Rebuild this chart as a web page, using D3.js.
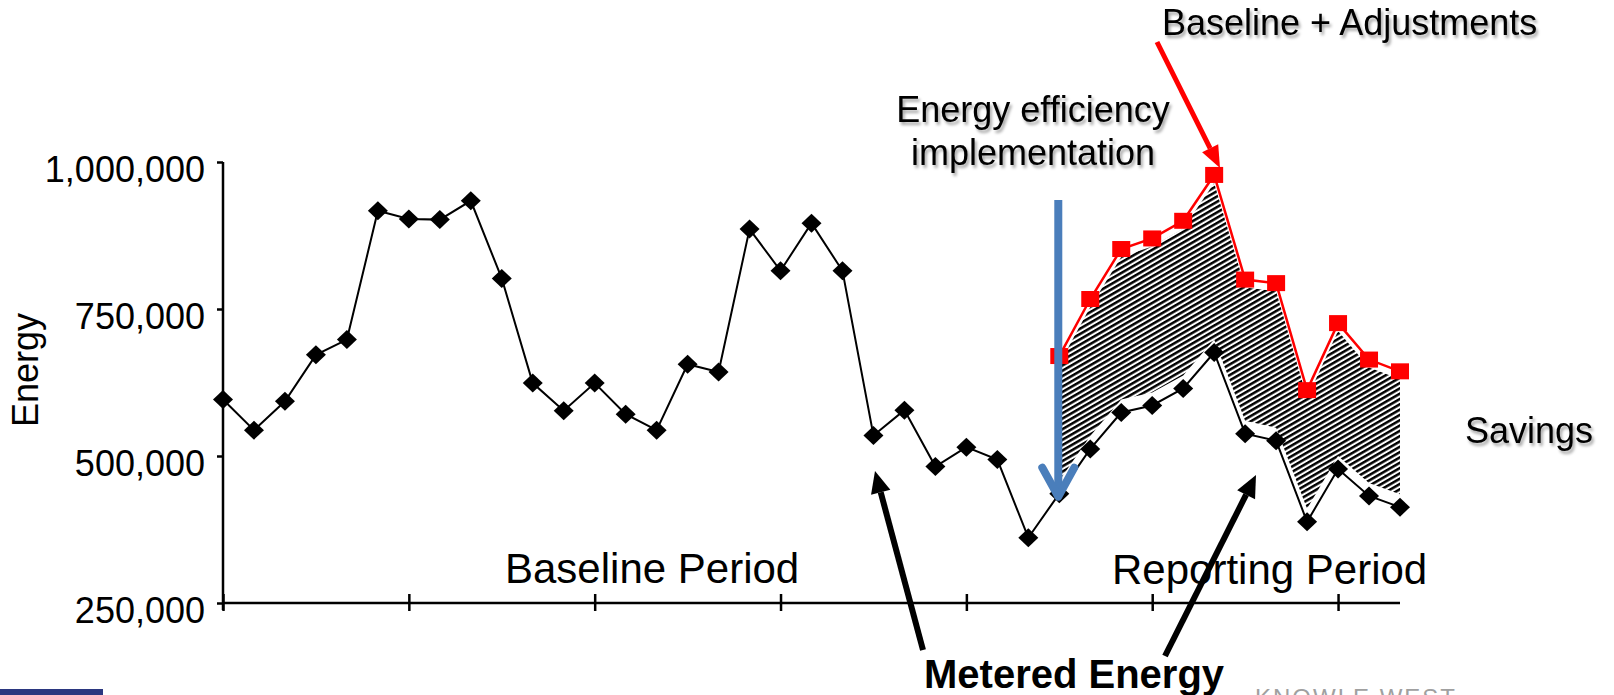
<!DOCTYPE html>
<html>
<head>
<meta charset="utf-8">
<script src="https://cdn.jsdelivr.net/npm/d3@7"></script>
<style>
  html, body { margin: 0; padding: 0; background: #fff; }
  svg { display: block; font-family: "Liberation Sans", Arial, sans-serif; }
</style>
</head>
<body>
<div id="chart"></div>
<script>
const width = 1614;
const height = 695;

// data (energy per period)
const periodTicks = [0, 6, 12, 18, 24, 30, 36];
const energyTicks = [250000, 500000, 750000, 1000000];
const metered = [
  596000, 544000, 593000, 672000, 698000, 917000, 903000, 902000, 934000, 802000,
  624000, 577000, 624000, 571000, 544000, 656000, 643000, 886000, 815000, 896000,
  815000, 535000, 578000, 482000, 515000, 494000, 361000, 436000, 512000, 574000,
  586000, 615000, 676000, 538000, 526000, 388000, 478000, 432000, 413000
];
const reportStart = 27;
const adjusted = [670000, 767000, 852000, 870000, 900000, 978000, 800000, 794000, 612000, 726000, 664000, 644000];

const svg = d3.select("#chart")
  .append("svg")
  .attr("width", width)
  .attr("height", height);

const defs = svg.append("defs");

const shadow = defs.append("filter")
  .attr("id", "shadow")
  .attr("x", "-10%").attr("y", "-30%")
  .attr("width", "130%").attr("height", "180%");
shadow.append("feDropShadow")
  .attr("dx", 2).attr("dy", 3)
  .attr("stdDeviation", 1.6)
  .attr("flood-color", "#000")
  .attr("flood-opacity", 0.35);

const hatch = defs.append("pattern")
  .attr("id", "hatch")
  .attr("patternUnits", "userSpaceOnUse")
  .attr("width", 8).attr("height", 4.6)
  .attr("patternTransform", "rotate(-30)");
hatch.append("rect").attr("width", 8).attr("height", 4.6).attr("fill", "#fff");
hatch.append("rect").attr("width", 8).attr("height", 2.5).attr("fill", "#000");

const x = d3.scaleLinear()
  .domain([0, metered.length - 1])
  .range([223, 1400]);

const y = d3.scaleLinear()
  .domain([250000, 1000000])
  .range([603, 162]);

// savings band between baseline+adjustments and metered energy
const savings = adjusted.map((v, i) => ({ i: reportStart + i, top: v, bottom: metered[reportStart + i] }));

svg.append("path")
  .datum(savings)
  .attr("fill", "url(#hatch)")
  .attr("d", d3.area()
    .x(d => x(d.i))
    .y0(d => y(d.bottom) - 13)
    .y1(d => y(d.top) + 8));

// axes
const yAxis = svg.append("g")
  .attr("transform", `translate(${x(0)},0)`)
  .call(d3.axisLeft(y)
    .tickValues(energyTicks)
    .tickSize(6)
    .tickPadding(12)
    .tickFormat(d3.format(",")));

yAxis.select(".domain").remove();
yAxis.append("line")
  .attr("y1", y(1000000)).attr("y2", y(250000) + 7)
  .attr("stroke", "#000").attr("stroke-width", 2.5);
yAxis.selectAll(".tick line").attr("stroke", "#000").attr("stroke-width", 2.5);
yAxis.selectAll(".tick text")
  .attr("dy", "19px")
  .attr("fill", "#000")
  .style("font-size", "36px")
  .style("font-family", "'Liberation Sans', Arial, sans-serif");

const xAxis = svg.append("g")
  .attr("transform", `translate(0,${y(250000)})`)
  .call(d3.axisBottom(x)
    .tickValues(periodTicks)
    .tickSize(8)
    .tickFormat(""));

xAxis.select(".domain")
  .attr("d", `M${x(0)},0H${x(metered.length - 1)}`)
  .attr("stroke", "#000").attr("stroke-width", 2.5);
xAxis.selectAll(".tick line")
  .attr("y1", -9).attr("y2", 8)
  .attr("stroke", "#000").attr("stroke-width", 2.5);

// metered energy line
svg.append("path")
  .datum(metered)
  .attr("fill", "none")
  .attr("stroke", "#000")
  .attr("stroke-width", 2)
  .attr("d", d3.line().x((d, i) => x(i)).y(d => y(d)));

// baseline + adjustments line
svg.append("path")
  .datum(adjusted)
  .attr("fill", "none")
  .attr("stroke", "#ff0000")
  .attr("stroke-width", 2.5)
  .attr("d", d3.line().x((d, i) => x(reportStart + i)).y(d => y(d)));

svg.append("g")
  .selectAll("path")
  .data(metered)
  .enter().append("path")
  .attr("transform", (d, i) => `translate(${x(i)},${y(d)})`)
  .attr("d", "M0,-9.5L10,0L0,9.5L-10,0Z")
  .attr("fill", "#000");

svg.append("g")
  .selectAll("rect")
  .data(adjusted)
  .enter().append("rect")
  .attr("x", (d, i) => x(reportStart + i) - 9)
  .attr("y", d => y(d) - 8)
  .attr("width", 18)
  .attr("height", 16)
  .attr("fill", "#ff0000");

// annotation arrows
function arrow(x1, y1, x2, y2, color, w, headLen, headW) {
  const a = Math.atan2(y2 - y1, x2 - x1);
  const bx = x2 - headLen * Math.cos(a);
  const by = y2 - headLen * Math.sin(a);
  const g = svg.append("g");
  g.append("line")
    .attr("x1", x1).attr("y1", y1)
    .attr("x2", bx).attr("y2", by)
    .attr("stroke", color).attr("stroke-width", w);
  g.append("path")
    .attr("d", `M${x2},${y2}L${bx + headW / 2 * Math.sin(a)},${by - headW / 2 * Math.cos(a)}L${bx - headW / 2 * Math.sin(a)},${by + headW / 2 * Math.cos(a)}Z`)
    .attr("fill", color);
}

arrow(1157, 42, 1220, 168, "#ff0000", 5, 22, 18);
arrow(923, 650, 875, 471, "#000", 6, 22, 20);
arrow(1165, 656, 1256, 475, "#000", 6, 22, 20);

// energy efficiency implementation arrow
const ix = x(reportStart) - 1;
const tipY = y(metered[reportStart]) + 6;
svg.append("line")
  .attr("x1", ix).attr("y1", 200)
  .attr("x2", ix).attr("y2", tipY - 4)
  .attr("stroke", "#4a7ebb").attr("stroke-width", 8);
svg.append("path")
  .attr("d", `M${ix - 16},${tipY - 32}L${ix},${tipY - 3}L${ix + 16},${tipY - 32}`)
  .attr("fill", "none")
  .attr("stroke", "#4a7ebb")
  .attr("stroke-width", 8)
  .attr("stroke-linecap", "round")
  .attr("stroke-linejoin", "round");

// labels
const labels = [
  { text: "Baseline + Adjustments", x: 1162, y: 35, size: 36, anchor: "start", shadow: true },
  { text: "Energy efficiency", x: 1033, y: 122, size: 36, anchor: "middle", shadow: true },
  { text: "implementation", x: 1033, y: 165, size: 36, anchor: "middle", shadow: true },
  { text: "Savings", x: 1465, y: 443, size: 36, anchor: "start", shadow: true },
  { text: "Baseline Period", x: 505, y: 583, size: 42, anchor: "start", shadow: false },
  { text: "Reporting Period", x: 1112, y: 584, size: 42, anchor: "start", shadow: false }
];

svg.append("g")
  .selectAll("text")
  .data(labels)
  .enter().append("text")
  .attr("x", d => d.x)
  .attr("y", d => d.y)
  .attr("text-anchor", d => d.anchor)
  .attr("filter", d => d.shadow ? "url(#shadow)" : null)
  .style("font-size", d => d.size + "px")
  .attr("fill", "#000")
  .text(d => d.text);

svg.append("text")
  .attr("x", 924)
  .attr("y", 688)
  .style("font-size", "40px")
  .style("font-weight", "bold")
  .attr("fill", "#000")
  .text("Metered Energy");

svg.append("text")
  .attr("transform", "translate(38,370) rotate(-90)")
  .attr("text-anchor", "middle")
  .style("font-size", "36px")
  .attr("fill", "#000")
  .text("Energy");

// cut-off logos along the bottom edge
svg.append("rect")
  .attr("x", 0).attr("y", 689)
  .attr("width", 103).attr("height", 6)
  .attr("fill", "#2b3780");

svg.append("text")
  .attr("x", 1255)
  .attr("y", 706)
  .style("font-size", "24px")
  .style("letter-spacing", "2px")
  .attr("fill", "#a0a0a0")
  .text("KNOWLE WEST");
</script>
</body>
</html>
